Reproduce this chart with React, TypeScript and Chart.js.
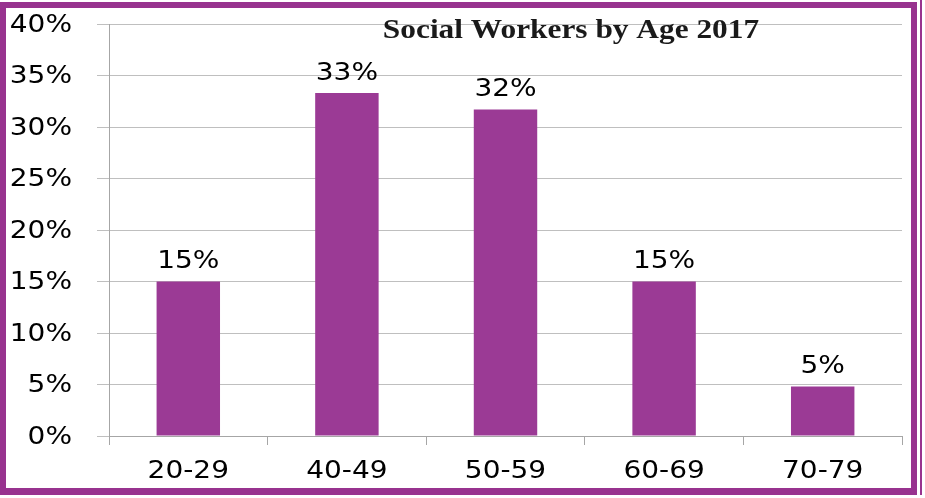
import React, { useEffect, useRef } from "react";
import { Chart, registerables } from "chart.js";

Chart.register(...registerables);

const categories = ["20-29", "40-49", "50-59", "60-69", "70-79"];
const values = [15, 33.3, 31.7, 15, 4.8];
const valueLabels = ["15%", "33%", "32%", "15%", "5%"];
const yTicks = [0, 5, 10, 15, 20, 25, 30, 35, 40];
const title = "Social Workers by Age 2017";

const PURPLE = "#9B3A95";
const FRAME = "#98338F";
const STRETCH = 1.12;

function drawStretched(ctx: CanvasRenderingContext2D, text: string, x: number, y: number, align: "left" | "right" | "center") {
  ctx.save();
  ctx.translate(x, y);
  ctx.scale(STRETCH, 1);
  ctx.textAlign = align;
  ctx.fillText(text, 0, 0);
  ctx.restore();
}

const textPlugin = {
  id: "customText",
  afterDraw(chart: any) {
    const ctx: CanvasRenderingContext2D = chart.ctx;
    const ys = chart.scales.y;
    const xs = chart.scales.x;
    ctx.save();
    ctx.fillStyle = "#000";
    ctx.font = "25px 'DejaVu Sans'";
    ctx.textBaseline = "middle";
    yTicks.forEach((t) => {
      drawStretched(ctx, t + "%", 72, ys.getPixelForValue(t) + 1, "right");
    });
    categories.forEach((c, i) => {
      drawStretched(ctx, c, xs.getPixelForValue(i), 471, "center");
    });
    values.forEach((v, i) => {
      drawStretched(ctx, valueLabels[i], xs.getPixelForValue(i), ys.getPixelForValue(v) - 20, "center");
    });
    ctx.font = "bold 28px 'Liberation Serif'";
    ctx.textBaseline = "alphabetic";
    ctx.fillStyle = "#1a1a1a";
    drawStretched(ctx, title, 571, 38, "center");

    // frame
    ctx.fillStyle = FRAME;
    ctx.fillRect(0, 2, 917, 6);
    ctx.fillRect(0, 2, 6, 493);
    ctx.fillRect(0, 488, 917, 7);
    ctx.fillRect(911, 2, 6, 493);
    ctx.fillRect(920, 0, 2, 495);
    ctx.restore();
  },
};

export default function App() {
  const ref = useRef<HTMLCanvasElement | null>(null);
  useEffect(() => {
    if (!ref.current) return;
    const chart = new Chart(ref.current, {
      type: "bar",
      data: {
        labels: categories,
        datasets: [
          {
            data: values,
            backgroundColor: PURPLE,
            borderWidth: 0,
            barPercentage: 0.4,
            categoryPercentage: 1.0,
          },
        ],
      },
      options: {
        responsive: false,
        animation: false,
        devicePixelRatio: 1,
        layout: { padding: { left: 0, top: 24, right: 23, bottom: 0 } },
        plugins: { legend: { display: false }, tooltip: { enabled: false }, title: { display: false } },
        scales: {
          x: {
            offset: true,
            grid: { offset: true, drawOnChartArea: false, drawTicks: true, tickLength: 9, color: "#A6A6A6" },
            border: { display: true, color: "#A6A6A6" },
            ticks: { display: false },
            afterFit: (s: any) => { s.height = 62; },
          },
          y: {
            min: 0,
            max: 40,
            ticks: { display: false, stepSize: 5 },
            grid: { drawTicks: true, tickLength: 12, color: "#BFBFBF" },
            border: { display: true, color: "#A6A6A6" },
            afterFit: (s: any) => { s.width = 109; },
          },
        },
      },
      plugins: [textPlugin],
    });
    return () => chart.destroy();
  }, []);
  return (
    <div style={{ position: "absolute", left: 0, top: 0, width: 925, height: 498, background: "#fff" }}>
      <canvas ref={ref} width={925} height={498} />
    </div>
  );
}
